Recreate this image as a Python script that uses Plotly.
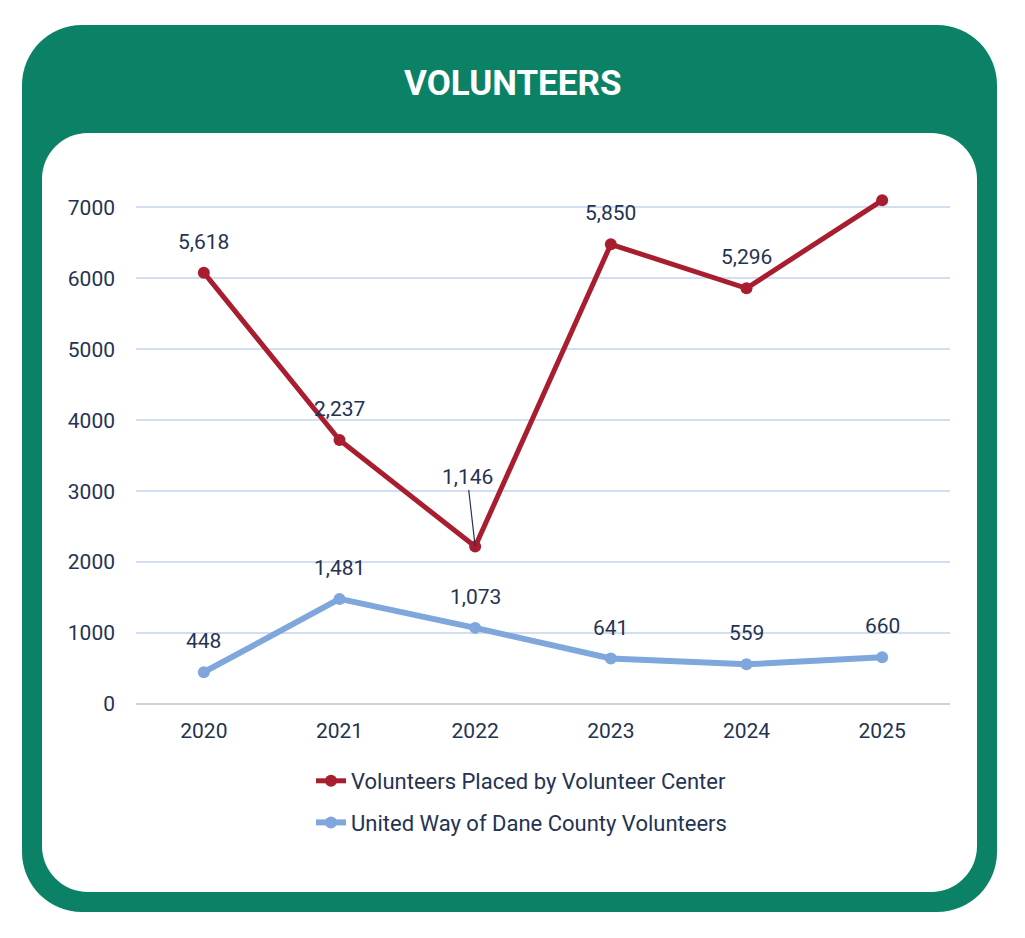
import plotly.graph_objects as go

# chart data
years = ['2020', '2021', '2022', '2023', '2024', '2025']
placed_values = [6080, 3720, 2220, 6480, 5860, 7100]
placed_labels = ['5,618', '2,237', '1,146', '5,850', '5,296', '']
united_values = [448, 1481, 1073, 641, 559, 660]
united_labels = ['448', '1,481', '1,073', '641', '559', '660']
y_ticks = [0, 1000, 2000, 3000, 4000, 5000, 6000, 7000]

# page has an 8px body margin, so the figure is a bit smaller than the window
PAD = 8
W, H = 1025 - PAD, 938 - PAD
# plot area in window pixels
L, R, T, B = 136, 950, 179, 704
GREEN = '#0B8266'
RED = '#A81E2F'
BLUE = '#7FA7DC'
TEXT = '#243352'
FONT = 'Roboto, Arial, sans-serif'


def px(x, y):
    return (x - L) / (R - L), (B - y) / (B - T)


def rounded_path(x0, y0, x1, y1, r):
    k = 0.4477 * r
    pts = [
        ('M', [(x0 + r, y0)]),
        ('L', [(x1 - r, y0)]),
        ('C', [(x1 - k, y0), (x1, y0 + k), (x1, y0 + r)]),
        ('L', [(x1, y1 - r)]),
        ('C', [(x1, y1 - k), (x1 - k, y1), (x1 - r, y1)]),
        ('L', [(x0 + r, y1)]),
        ('C', [(x0 + k, y1), (x0, y1 - k), (x0, y1 - r)]),
        ('L', [(x0, y0 + r)]),
        ('C', [(x0, y0 + k), (x0 + k, y0), (x0 + r, y0)]),
    ]
    out = ''
    for cmd, coords in pts:
        out += cmd + ' '.join('%.5f,%.5f' % px(cx, cy) for cx, cy in coords) + ' '
    return out + 'Z'


fig = go.Figure()

fig.add_trace(go.Scatter(
    x=years, y=placed_values, mode='lines+markers',
    name='Volunteers Placed by Volunteer Center', legendgroup='a',
    line=dict(color=RED, width=5), marker=dict(size=12, color=RED),
    cliponaxis=False, hoverinfo='skip'))

fig.add_trace(go.Scatter(
    x=years, y=united_values, mode='lines+markers',
    name='United Way of Dane County Volunteers', legendgroup='b',
    line=dict(color=BLUE, width=6), marker=dict(size=12, color=BLUE),
    cliponaxis=False, hoverinfo='skip'))

# category axis: annotations are placed by category index
label_font = dict(family=FONT, size=21, color=TEXT)
annotations = []
for i, (val, lab) in enumerate(zip(placed_values, placed_labels)):
    if not lab:
        continue
    if lab == '1,146':
        annotations.append(dict(x=i, y=val, text=lab, showarrow=True, arrowhead=0,
                                arrowwidth=1.2, arrowcolor=TEXT, ax=-8, ay=-70,
                                font=label_font))
    else:
        annotations.append(dict(x=i, y=val, text=lab, showarrow=False, yshift=31,
                                font=label_font))
for i, (val, lab) in enumerate(zip(united_values, united_labels)):
    annotations.append(dict(x=i, y=val, text=lab, showarrow=False, yshift=31,
                            font=label_font))

annotations.append(dict(xref='paper', yref='paper', x=px(512, 0)[0], y=px(0, 83)[1],
                        xanchor='center', yanchor='middle',
                        text='<b>VOLUNTEERS</b>', showarrow=False,
                        font=dict(family='Roboto, sans-serif', size=35, color='white')))

shapes = [
    dict(type='path', xref='paper', yref='paper', layer='below',
         path=rounded_path(22, 25, 997, 912, 60), fillcolor=GREEN, line=dict(width=0)),
    dict(type='path', xref='paper', yref='paper', layer='below',
         path=rounded_path(42, 133, 977, 892, 46), fillcolor='white', line=dict(width=0)),
]

fig.update_layout(
    width=W, height=H,
    margin=dict(l=L - PAD, r=1025 - R, t=T - PAD, b=938 - B, autoexpand=False),
    paper_bgcolor='white', plot_bgcolor='rgba(0,0,0,0)',
    showlegend=True,
    legend=dict(x=px(311, 0)[0], y=px(0, 760)[1], xanchor='left', yanchor='top',
                traceorder='grouped', tracegroupgap=10,
                font=dict(family=FONT, size=22, color=TEXT), bgcolor='rgba(0,0,0,0)'),
    xaxis=dict(type='category', range=[-0.5, 5.5], showgrid=False, zeroline=False,
               showline=False, ticks='', ticklabelstandoff=12, tickangle=0,
               tickfont=dict(family=FONT, size=21, color=TEXT)),
    yaxis=dict(range=[0, 7400], tickvals=y_ticks, showgrid=True, gridcolor='#D2DEF2',
               gridwidth=1.5, zeroline=True, zerolinecolor='#D3D3D3', zerolinewidth=2,
               showline=False, ticks='', ticklabelstandoff=20,
               tickfont=dict(family=FONT, size=21, color=TEXT)),
    shapes=shapes, annotations=annotations,
)

fig.write_html('out.html')
